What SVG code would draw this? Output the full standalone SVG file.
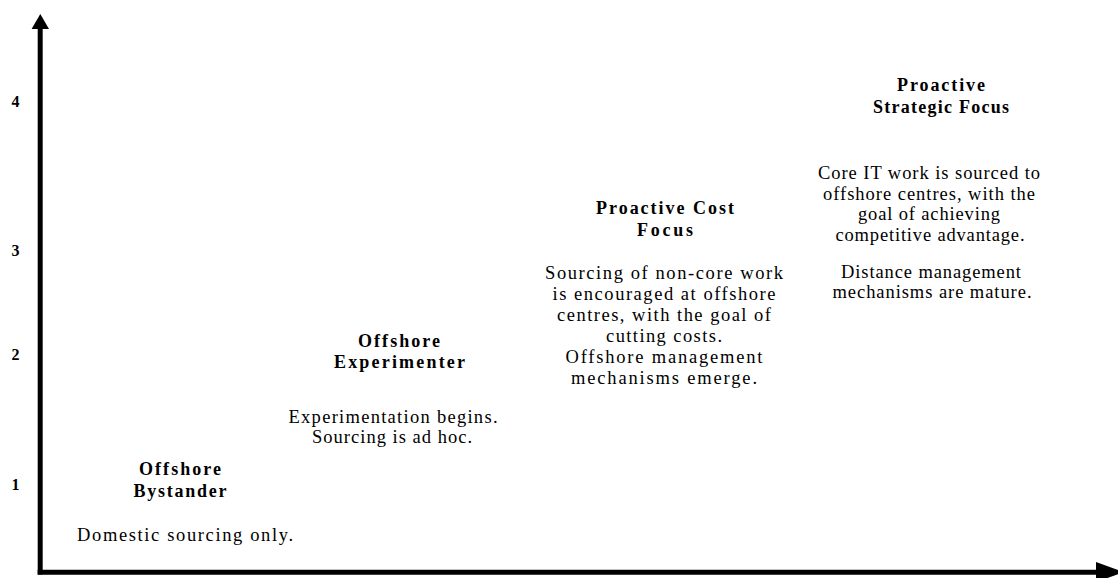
<svg xmlns="http://www.w3.org/2000/svg" width="1118" height="578" viewBox="0 0 1118 578">
<style>
text{font-family:"Liberation Serif","Times New Roman",serif;fill:#000;text-anchor:middle}
.t{font-size:18px;font-weight:bold}
.b{font-size:18.5px}
.n{font-size:16px;font-weight:bold}
</style>
<rect width="1118" height="578" fill="#fff"/>
<g id="axes">
<line x1="40.2" y1="27" x2="40.2" y2="574.5" stroke="#000" stroke-width="5"/>
<polygon points="40.3,14 31.6,29 49,29" fill="#000"/>
<line x1="37.7" y1="572.2" x2="1097" y2="572.2" stroke="#000" stroke-width="5"/>
<polygon points="1096,562 1124,572.2 1096,582" fill="#000"/>
</g>
<g id="ticks">
<text class="n" x="15.5" y="107">4</text>
<text class="n" x="15.5" y="256">3</text>
<text class="n" x="15.5" y="360">2</text>
<text class="n" x="15.5" y="490">1</text>
</g>
<g id="bystander">
<text class="t" x="180" y="475" textLength="82" lengthAdjust="spacing">Offshore</text>
<text class="t" x="180" y="497" textLength="93" lengthAdjust="spacing">Bystander</text>
<text class="b" x="185" y="541" textLength="216" lengthAdjust="spacing">Domestic sourcing only.</text>
</g>
<g id="experimenter">
<text class="t" x="399" y="347" textLength="82" lengthAdjust="spacing">Offshore</text>
<text class="t" x="399.5" y="368" textLength="131" lengthAdjust="spacing">Experimenter</text>
<text class="b" x="393" y="423" textLength="209" lengthAdjust="spacing">Experimentation begins.</text>
<text class="b" x="392" y="443" textLength="160" lengthAdjust="spacing">Sourcing is ad hoc.</text>
</g>
<g id="cost">
<text class="t" x="665" y="214" textLength="138" lengthAdjust="spacing">Proactive Cost</text>
<text class="t" x="665" y="236" textLength="56" lengthAdjust="spacing">Focus</text>
<text class="b" x="664" y="279" textLength="238" lengthAdjust="spacing">Sourcing of non-core work</text>
<text class="b" x="664" y="300" textLength="223" lengthAdjust="spacing">is encouraged at offshore</text>
<text class="b" x="664" y="321" textLength="214" lengthAdjust="spacing">centres, with the goal of</text>
<text class="b" x="664" y="342" textLength="116" lengthAdjust="spacing">cutting costs.</text>
<text class="b" x="664" y="363" textLength="197" lengthAdjust="spacing">Offshore management</text>
<text class="b" x="664" y="384" textLength="186" lengthAdjust="spacing">mechanisms emerge.</text>
</g>
<g id="strategic">
<text class="t" x="941" y="91" textLength="88" lengthAdjust="spacing">Proactive</text>
<text class="t" x="941" y="113" textLength="136" lengthAdjust="spacing">Strategic Focus</text>
<text class="b" x="929" y="179" textLength="222" lengthAdjust="spacing">Core IT work is sourced to</text>
<text class="b" x="929" y="200" textLength="212" lengthAdjust="spacing">offshore centres, with the</text>
<text class="b" x="929" y="220" textLength="142" lengthAdjust="spacing">goal of achieving</text>
<text class="b" x="930" y="241" textLength="189" lengthAdjust="spacing">competitive advantage.</text>
<text class="b" x="931" y="278" textLength="180" lengthAdjust="spacing">Distance management</text>
<text class="b" x="932" y="298" textLength="199" lengthAdjust="spacing">mechanisms are mature.</text>
</g>
</svg>
